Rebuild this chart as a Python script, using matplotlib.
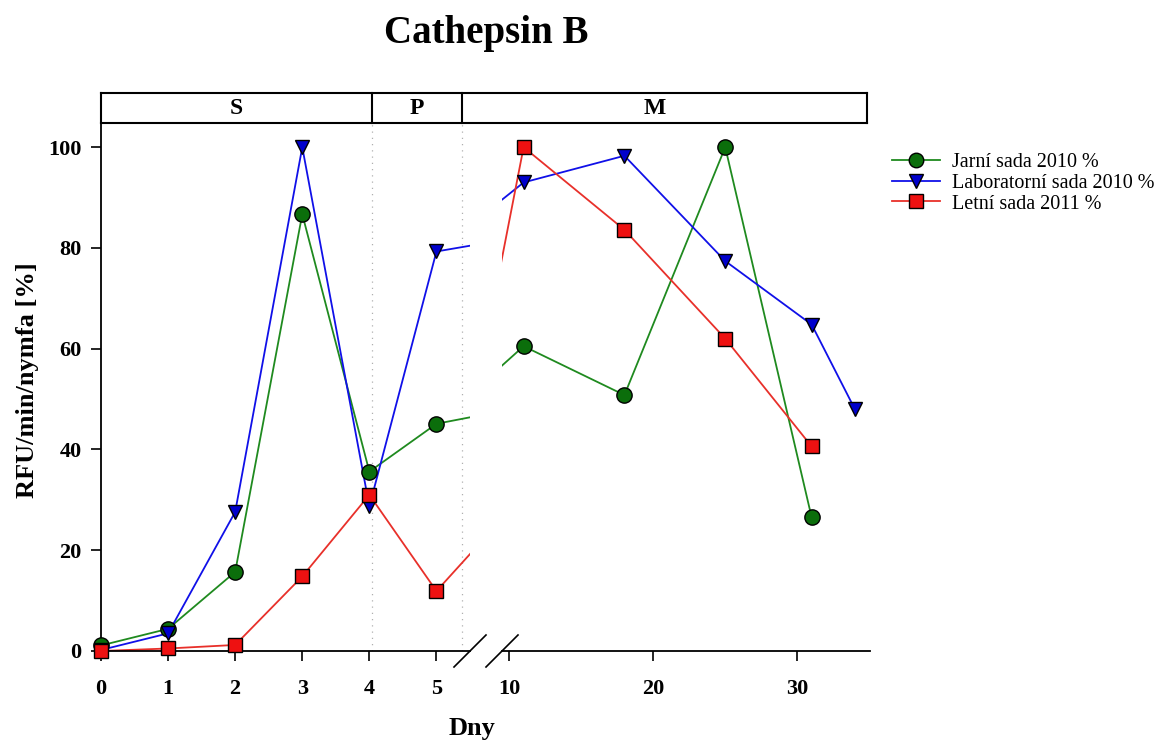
import numpy as np
import matplotlib
matplotlib.use("Agg")
import matplotlib.pyplot as plt
from matplotlib.lines import Line2D
from matplotlib.transforms import blended_transform_factory

plt.rcParams['font.family'] = ['Liberation Serif', 'DejaVu Serif']

# data
days = [0, 1, 2, 3, 4, 5, 11, 18, 25, 31]
days_lab = [0, 1, 2, 3, 4, 5, 11, 18, 25, 31, 34]
jarni = [1.1, 4.4, 15.7, 86.7, 35.6, 45.1, 60.5, 50.8, 100, 26.5]
laborat = [0.2, 3.5, 27.6, 100, 28.7, 79.3, 93, 98.3, 77.4, 64.8, 48]
letni = [0, 0.5, 1.2, 14.8, 31, 11.9, 100, 83.6, 62, 40.6]

labels = ["Jarní sada 2010 %", "Laboratorní sada 2010 %", "Letní sada 2011 %"]
phases = ["S", "P", "M"]
phase_edges = [4.04, 5.38]   # day boundaries between phases
yticks = [0, 20, 40, 60, 80, 100]
xticks_left = [0, 1, 2, 3, 4, 5]
xticks_right = [10, 20, 30]

series = [
    (days, jarni, "#1f8a1f", "#0b6e0b", "o", 11),
    (days_lab, laborat, "#1010e8", "#0000cc", "v", 10.5),
    (days, letni, "#e8302a", "#ee1111", "s", 10),
]

W, H = 1174, 740
fig = plt.figure(figsize=(W / 100, H / 100), dpi=100)

bot = 1 - 651 / H
hgt = (651 - 122) / H
ax1 = fig.add_axes([101 / W, bot, (470 - 101) / W, hgt])
ax2 = fig.add_axes([502 / W, bot, (870 - 502) / W, hgt])
band = fig.add_axes([101 / W, 1 - 123 / H, (867 - 101) / W, 30 / H])

for ax, lim in ((ax1, (0, 5.5)), (ax2, (9.5, 35.05))):
    for x, y, lc, fc, m, ms in series:
        x = np.array(x, dtype=float)
        y = np.array(y, dtype=float)
        ax.plot(x, y, color=lc, lw=1.3, zorder=2)
        keep = (x >= lim[0]) & (x <= lim[1])
        ax.plot(x[keep], y[keep], ls="none", marker=m, ms=ms, mfc=fc,
                mec="black", mew=1.0, clip_on=False, zorder=3)
    ax.set_xlim(*lim)
    ax.set_ylim(0, 105)
    ax.spines['top'].set_visible(False)
    ax.spines['right'].set_visible(False)
    ax.spines['bottom'].set_linewidth(1.3)
    ax.tick_params(direction='out', length=7, width=1.2, labelsize=16, pad=13)

ax1.set_xticks(xticks_left)
ax1.set_yticks(yticks)
ax1.set_xticklabels([str(v) for v in xticks_left], fontweight='bold')
ax1.set_yticklabels([str(v) for v in yticks], fontweight='bold')
ax1.spines['left'].set_linewidth(1.3)
ax1.tick_params(axis='y', pad=7)

ax2.set_xticks(xticks_right)
ax2.set_xticklabels([str(v) for v in xticks_right], fontweight='bold')
ax2.set_yticks([])
ax2.spines['left'].set_visible(False)

for e in phase_edges:
    ax1.axvline(e, color="#b0b0b0", lw=0.9, ls=(0, (1, 4)), zorder=1)

# break marks
for ax, xpos, wpx in ((ax1, 1.0, 369), (ax2, 0.0, 368)):
    dx, dy = 16 / wpx, 16 / 529
    ax.plot([xpos - dx, xpos + dx], [-dy, dy], transform=ax.transAxes,
            color="black", lw=1.2, clip_on=False)

# phase band
band.set_xticks([])
band.set_yticks([])
for s in band.spines.values():
    s.set_linewidth(1.5)
tr = blended_transform_factory(ax1.transData, band.transAxes)
for e in phase_edges:
    band.plot([e, e], [0, 1], transform=tr, color="black", lw=1.5, clip_on=False)
band_mid = [(0 + phase_edges[0]) / 2, (phase_edges[0] + phase_edges[1]) / 2]
for lab, xm in zip(phases[:2], band_mid):
    band.text(xm, 0.5, lab, transform=tr, ha='center', va='center',
              fontsize=17, fontweight='bold')
band.text(655 / W, 1 - 108 / H, phases[2], transform=fig.transFigure,
          ha='center', va='center', fontsize=17, fontweight='bold')

fig.text(486 / W, 1 - 43 / H, "Cathepsin B", ha='center', va='baseline',
         fontsize=28, fontweight='bold')
fig.text(28 / W, 1 - 380 / H, "RFU/min/nymfa [%]", rotation=90, ha='center',
         va='center', fontsize=19, fontweight='bold')
fig.text(472 / W, 1 - 728 / H, "Dny", ha='center', va='center',
         fontsize=19, fontweight='bold')

handles = [Line2D([], [], color=lc, lw=1.3, marker=m, ms=ms * 0.95, mfc=fc,
                  mec="black", mew=1.0) for _, _, lc, fc, m, ms in series]
fig.legend(handles, labels, loc='upper left', bbox_to_anchor=(892 / W, 1 - 153 / H),
           frameon=False, fontsize=14.5, borderpad=0, borderaxespad=0,
           handlelength=2.4, handletextpad=0.6, labelspacing=0.08, numpoints=1)

fig.savefig("out.png", dpi=100)
